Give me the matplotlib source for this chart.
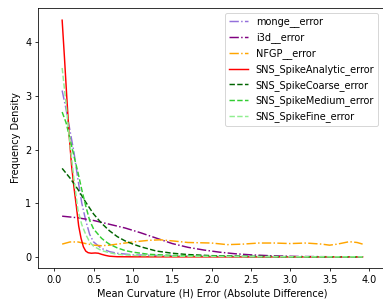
import numpy as np
import matplotlib
matplotlib.use("Agg")
import matplotlib.pyplot as plt

# values
x_monge = [0.10, 0.15, 0.20, 0.25, 0.30, 0.35, 0.40, 0.45, 0.50, 0.60, 0.70, 0.80, 1.00, 1.50, 2.00, 3.00, 3.92]
y_monge = [3.10, 2.75, 2.35, 1.95, 1.45, 1.00, 0.68, 0.42, 0.28, 0.16, 0.10, 0.07, 0.04, 0.02, 0.01, 0.005, 0.003]

x_i3d = [0.10, 0.30, 0.50, 0.70, 0.90, 1.10, 1.30, 1.50, 1.70, 1.90, 2.10, 2.30, 2.50, 2.80, 3.10, 3.50, 3.92]
y_i3d = [0.76, 0.73, 0.68, 0.61, 0.54, 0.45, 0.35, 0.25, 0.18, 0.13, 0.09, 0.06, 0.04, 0.02, 0.01, 0.005, 0.003]

x_nfgp = [0.10, 0.20, 0.30, 0.40, 0.50, 0.60, 0.70, 0.85, 1.00, 1.20, 1.35, 1.50, 1.70, 2.00, 2.20,
          2.40, 2.60, 2.80, 3.00, 3.20, 3.40, 3.50, 3.60, 3.75, 3.85, 3.92]
y_nfgp = [0.24, 0.28, 0.28, 0.25, 0.22, 0.21, 0.22, 0.25, 0.28, 0.31, 0.32, 0.30, 0.27, 0.26, 0.23,
          0.24, 0.26, 0.26, 0.25, 0.26, 0.24, 0.22, 0.24, 0.285, 0.27, 0.24]

x_analytic = [0.10, 0.13, 0.16, 0.19, 0.22, 0.25, 0.28, 0.31, 0.34, 0.37, 0.40, 0.43, 0.47, 0.52,
              0.56, 0.60, 0.65, 0.70, 0.80, 1.00, 2.00, 3.00, 3.92]
y_analytic = [4.41, 3.70, 2.95, 2.25, 1.70, 1.30, 0.95, 0.58, 0.35, 0.19, 0.11, 0.08, 0.07, 0.075,
              0.07, 0.05, 0.03, 0.015, 0.005, 0.003, 0.002, 0.002, 0.002]

x_coarse = [0.10, 0.20, 0.30, 0.40, 0.50, 0.60, 0.70, 0.80, 0.90, 1.00, 1.10, 1.30, 1.50, 1.70, 2.00, 2.50, 3.00, 3.92]
y_coarse = [1.65, 1.47, 1.26, 1.02, 0.80, 0.63, 0.49, 0.38, 0.30, 0.24, 0.19, 0.11, 0.07, 0.045, 0.025, 0.01, 0.005, 0.002]

x_medium = [0.10, 0.15, 0.20, 0.25, 0.30, 0.35, 0.40, 0.45, 0.50, 0.60, 0.65, 0.70, 0.80, 0.90, 1.00, 1.20, 1.50, 2.00, 3.00, 3.92]
y_medium = [2.70, 2.50, 2.20, 1.88, 1.58, 1.25, 0.95, 0.68, 0.52, 0.35, 0.29, 0.24, 0.17, 0.12, 0.09, 0.05, 0.03, 0.015, 0.005, 0.003]

x_fine = [0.10, 0.15, 0.20, 0.25, 0.30, 0.35, 0.40, 0.45, 0.50, 0.60, 0.70, 0.80, 1.00, 1.50, 2.00, 3.00, 3.92]
y_fine = [3.52, 2.85, 2.10, 1.45, 0.88, 0.60, 0.42, 0.28, 0.20, 0.12, 0.08, 0.05, 0.03, 0.015, 0.01, 0.004, 0.002]

dpi = 70
fig = plt.figure(figsize=(383 / dpi, 304 / dpi), dpi=dpi)
ax = fig.add_axes([38 / 383, 36 / 304, 349 / 383, 260 / 304])

ax.plot(x_monge, y_monge, color="mediumpurple", linestyle="-.", label="monge__error")
ax.plot(x_i3d, y_i3d, color="purple", linestyle="-.", label="i3d__error")
ax.plot(x_nfgp, y_nfgp, color="orange", linestyle="-.", label="NFGP__error")
ax.plot(x_analytic, y_analytic, color="red", linestyle="-", label="SNS_SpikeAnalytic_error")
ax.plot(x_coarse, y_coarse, color="darkgreen", linestyle="--", label="SNS_SpikeCoarse_error")
ax.plot(x_medium, y_medium, color="limegreen", linestyle="--", label="SNS_SpikeMedium_error")
ax.plot(x_fine, y_fine, color="lightgreen", linestyle="--", label="SNS_SpikeFine_error")

ax.set_xlim(-0.207, 4.23)
ax.set_ylim(-0.205, 4.637)
ax.set_xticks(np.arange(0, 4.01, 0.5))
ax.set_yticks([0, 1, 2, 3, 4])
ax.set_xlabel("Mean Curvature (H) Error (Absolute Difference)")
ax.set_ylabel("Frequency Density")
ax.legend(loc="upper right", bbox_to_anchor=(0.9890, 1.0))

fig.savefig("out.png", dpi=dpi)
